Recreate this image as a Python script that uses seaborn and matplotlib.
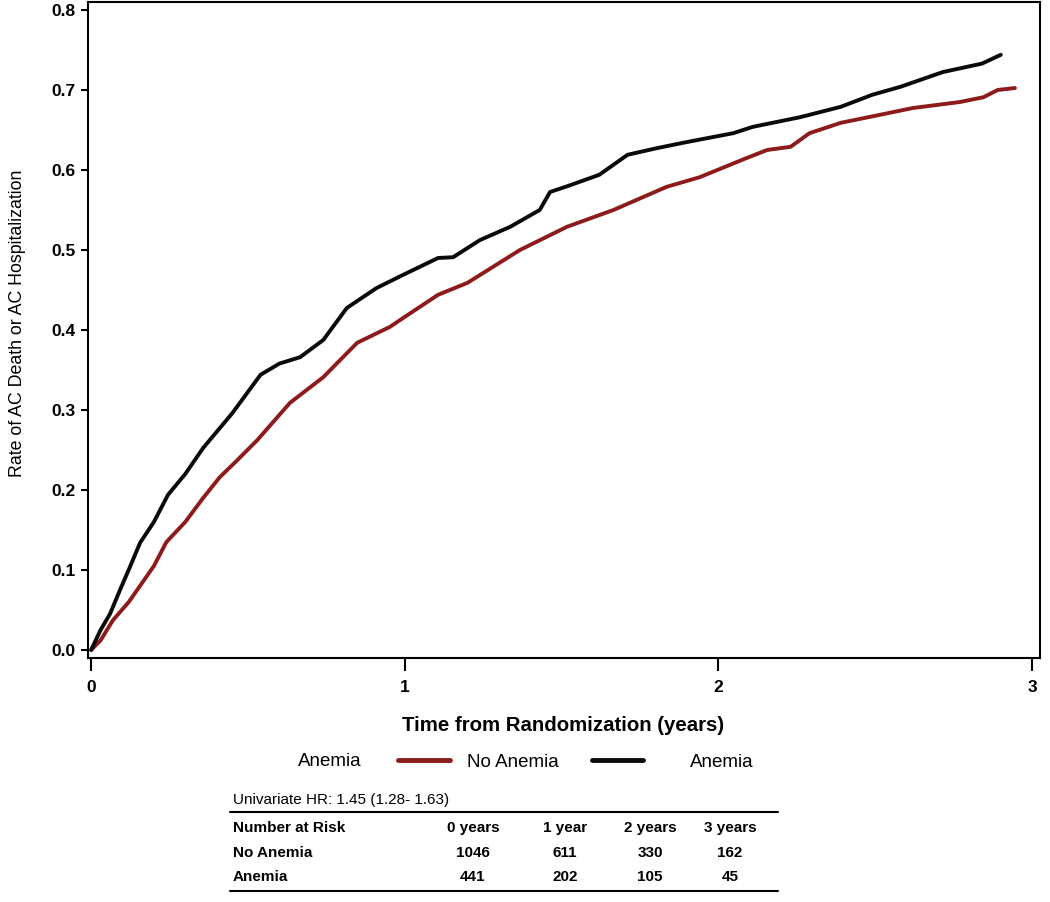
import numpy as np
import pandas as pd
import matplotlib
matplotlib.use("Agg")
import matplotlib.pyplot as plt
from matplotlib.lines import Line2D
import seaborn as sns

# Cumulative event rate curves
anemia_t = [0, 0.03, 0.06, 0.092, 0.125, 0.156, 0.2, 0.245, 0.3, 0.357, 0.45, 0.54,
            0.6, 0.666, 0.74, 0.815, 0.91, 0.995, 1.106, 1.154, 1.24, 1.336, 1.43,
            1.463, 1.52, 1.62, 1.71, 1.8, 1.887, 1.94, 2.047, 2.11, 2.26, 2.39, 2.49,
            2.58, 2.716, 2.84, 2.9]
anemia_v = [0, 0.025, 0.045, 0.075, 0.105, 0.134, 0.16, 0.194, 0.22, 0.2525, 0.296,
            0.344, 0.358, 0.366, 0.3875, 0.4275, 0.4525, 0.469, 0.49, 0.491, 0.5125,
            0.529, 0.55, 0.5725, 0.58, 0.594, 0.619, 0.627, 0.634, 0.638, 0.646, 0.654,
            0.666, 0.679, 0.694, 0.704, 0.7225, 0.733, 0.744]

no_anemia_t = [0, 0.03, 0.07, 0.12, 0.2, 0.24, 0.3, 0.357, 0.41, 0.46, 0.53, 0.634,
               0.74, 0.848, 0.953, 0.985, 1.106, 1.2, 1.367, 1.517, 1.665, 1.835, 1.94,
               2.09, 2.155, 2.23, 2.29, 2.39, 2.515, 2.62, 2.77, 2.845, 2.89, 2.945]
no_anemia_v = [0, 0.012, 0.0375, 0.06, 0.105, 0.135, 0.16, 0.19, 0.216, 0.235, 0.2625,
               0.309, 0.341, 0.384, 0.404, 0.4125, 0.444, 0.459, 0.5, 0.529, 0.55, 0.579,
               0.591, 0.615, 0.625, 0.629, 0.646, 0.659, 0.669, 0.6775, 0.685, 0.691,
               0.70, 0.7025]

groups = ["No Anemia", "Anemia"]
colors = {"No Anemia": "#8e1b1b", "Anemia": "#0a0a0a"}

hr_text = "Univariate HR: 1.45 (1.28- 1.63)"
risk_cols = ["0 years", "1 year", "2 years", "3 years"]
risk_no_anemia = [1046, 611, 330, 162]
risk_anemia = [441, 202, 105, 45]

df = pd.concat([
    pd.DataFrame({"t": no_anemia_t, "rate": no_anemia_v, "group": "No Anemia"}),
    pd.DataFrame({"t": anemia_t, "rate": anemia_v, "group": "Anemia"}),
])

sns.set_style("ticks")
plt.rcParams["font.family"] = ["Liberation Sans", "DejaVu Sans"]
plt.rcParams.update({"text.color": "black", "axes.labelcolor": "black",
                     "xtick.color": "black", "ytick.color": "black"})

W, H = 1050, 902
fig = plt.figure(figsize=(W / 100, H / 100), dpi=100)
ax = fig.add_axes([88 / W, 1 - 658 / H, 952 / W, 656 / H])

sns.lineplot(data=df, x="t", y="rate", hue="group", hue_order=groups,
             palette=colors, linewidth=2.8, estimator=None, sort=False,
             legend=False, ax=ax)

ax.set_xlim(-0.01, 3.025)
ax.set_ylim(-0.01, 0.81)
ax.set_xticks([0, 1, 2, 3])
yt = np.arange(0, 0.81, 0.1)
ax.set_yticks(yt)
ax.set_yticklabels([f"{v:.1f}" for v in yt])
ax.tick_params(axis="x", direction="out", length=9, width=1.5, labelsize=12.5, pad=7)
ax.tick_params(axis="y", direction="out", length=5, width=1.5, labelsize=12.5, pad=4)
for lab in ax.get_xticklabels() + ax.get_yticklabels():
    lab.set_fontweight("bold")
for sp in ax.spines.values():
    sp.set_visible(True)
    sp.set_linewidth(1.5)
    sp.set_color("black")

ax.set_xlabel("Time from Randomization (years)", fontsize=14.7, fontweight="bold")
ax.xaxis.set_label_coords((563 - 88) / 952, -(716 - 658) / 656)
ax.set_ylabel("Rate of AC Death or AC Hospitalization", fontsize=12.8)
ax.yaxis.set_label_coords(-(88 - 26) / 952, (658 - 323) / 656)

# legend, drawn as two one-entry legends to keep the spacing of the original
fs = 13.5
fpx = fs * 100 / 72
ly = 1 - 762 / H
fig.text(330 / W, ly, "Anemia", fontsize=fs, ha="center", va="center")
for g, x0, length, gap in [("No Anemia", 398, 52, 17), ("Anemia", 592, 51, 47)]:
    fig.legend([Line2D([], [], color=colors[g], lw=3.5)], [g], frameon=False,
               fontsize=fs, loc="center left", bbox_to_anchor=(x0 / W, ly),
               borderaxespad=0, borderpad=0, handlelength=length / fpx,
               handletextpad=gap / fpx)

# number at risk table
fig.text(233 / W, 1 - 800 / H, hr_text, fontsize=11, va="center")
fig.add_artist(Line2D([230 / W, 778 / W], [1 - 812 / H] * 2, color="black", lw=1.5))
fig.add_artist(Line2D([230 / W, 778 / W], [1 - 891 / H] * 2, color="black", lw=1.5))
col_x = [473, 565, 650, 730]
rows = [("Number at Risk", risk_cols, 828),
        ("No Anemia", risk_no_anemia, 853),
        ("Anemia", risk_anemia, 877)]
for name, vals, yp in rows:
    fig.text(233 / W, 1 - yp / H, name, fontsize=11, fontweight="bold", va="center")
    for cx, v in zip(col_x, vals):
        fig.text(cx / W, 1 - yp / H, str(v), fontsize=11, fontweight="bold",
                 ha="center", va="center")

fig.savefig("out.png", dpi=100)
